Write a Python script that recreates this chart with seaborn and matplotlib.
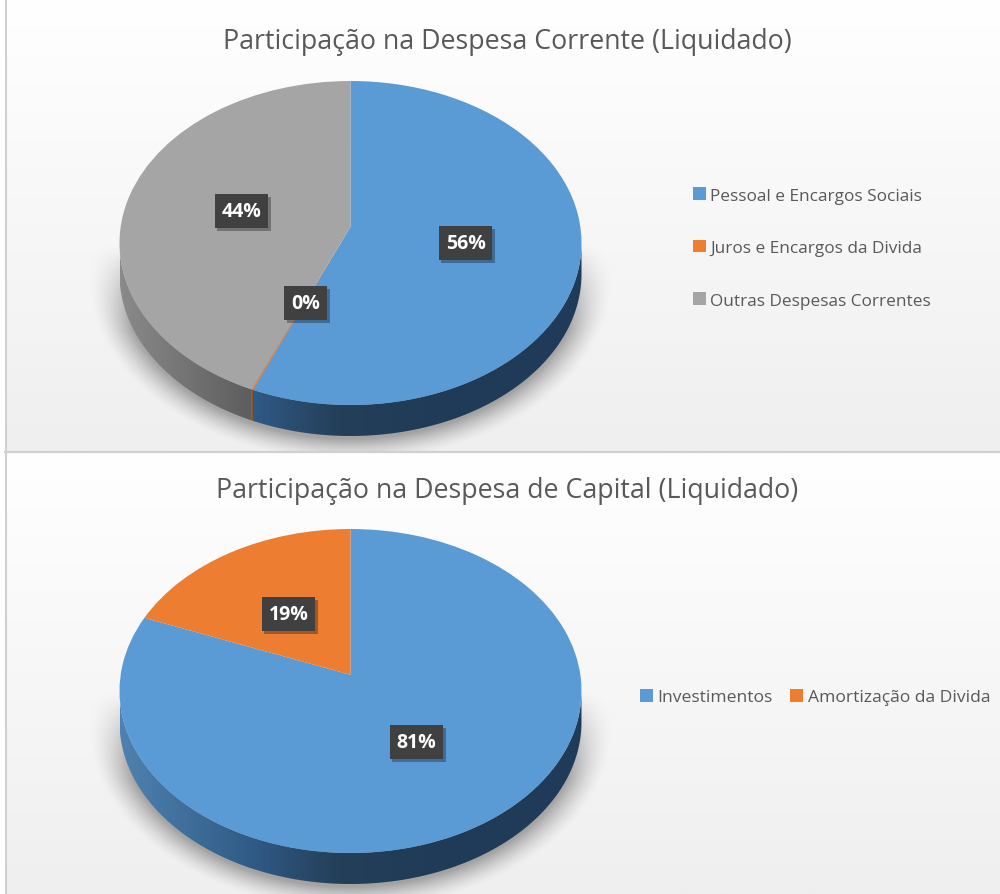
import matplotlib
matplotlib.use("Agg")
import matplotlib.pyplot as plt
import matplotlib.patheffects as pe
from matplotlib.colors import LinearSegmentedColormap
from matplotlib.patches import Polygon
from matplotlib.transforms import Transform
import numpy as np
import seaborn as sns

# values (percent)
title_top = "Participação na Despesa Corrente (Liquidado)"
cats_top = ["Pessoal e Encargos Sociais", "Juros e Encargos da Divida", "Outras Despesas Correntes"]
vals_top = [56.3, 0.1, 43.6]

title_bottom = "Participação na Despesa de Capital (Liquidado)"
cats_bottom = ["Investimentos", "Amortização da Divida"]
vals_bottom = [81.0, 19.0]

BLUE, ORANGE, GREY = "#5B9BD5", "#ED7D31", "#A5A5A5"
TEXT = "#595959"
W, H = 1000, 895
RX, RY, DEPTH = 231, 162, 31
TILT = 0.1  # perspective: the pie's apex sits above the centre of the ellipse

side_ramps = {
    BLUE: ["#4f82b0", "#2f5a85", "#243f58", "#203b57", "#1f3c5a"],
    ORANGE: ["#a0561f", "#8a4a1a", "#7a4217", "#7a4217", "#7a4217"],
    GREY: ["#8a8a8a", "#5c5c5c", "#555555", "#555555", "#555555"],
}


def tilt_xy(xy):
    x, y = xy[:, 0], xy[:, 1]
    d = 1 + TILT * y
    return np.column_stack([x * np.sqrt(1 - TILT ** 2) / d, (y + TILT) / d])


class TiltTransform(Transform):
    input_dims = output_dims = 2

    def transform_non_affine(self, values):
        return tilt_xy(np.asarray(values))


sns.set_theme(style="white")
plt.rcParams["font.family"] = ["Open Sans", "DejaVu Sans"]

fig = plt.figure(figsize=(W / 100, H / 100), dpi=100, facecolor="white")

bg = fig.add_axes([0, 0, 1, 1], zorder=0)
bg.set_axis_off()
fade = LinearSegmentedColormap.from_list("fade", ["#ffffff", "#efefef"])
ramp = np.linspace(0, 1, 256).reshape(-1, 1)
bg.imshow(ramp, cmap=fade, extent=(6, W, 452, 0), aspect="auto", vmin=0, vmax=1)
bg.imshow(ramp, cmap=fade, extent=(6, W, H, 454), aspect="auto", vmin=0, vmax=1)
bg.plot([5.5, 5.5], [0, H], color="#d0d0d0", lw=1.5)
bg.plot([5, W], [452.5, 452.5], color="#d0d0d0", lw=1.6)
bg.set_xlim(0, W)
bg.set_ylim(H, 0)


def draw_pie(cy, panel_bottom, vals, colors, cats, label_px, legend_cfg):
    lim_y = (panel_bottom - cy) / RY
    lim_x = 1.45
    ax = fig.add_axes([(350.5 - lim_x * RX) / W, 1 - (cy + lim_y * RY) / H,
                       2 * lim_x * RX / W, 2 * lim_y * RY / H],
                      facecolor="none", zorder=1)
    wedges, _ = ax.pie(vals, colors=colors, startangle=90, counterclock=False,
                       radius=1, wedgeprops=dict(linewidth=0, zorder=5))
    ax.set_aspect("auto")
    for w in wedges:
        w.set_transform(TiltTransform() + ax.transData)
    depth = DEPTH / RY

    # soft shadow below the pie
    gx, gy = np.meshgrid(np.linspace(-1.3, 1.3, 400), np.linspace(-lim_y, 0.2, 300))
    dist = np.sqrt((gx / 1.02) ** 2 + ((gy + depth * 1.1) / 1.02) ** 2)
    alpha = np.clip((1.12 - dist) / 0.14, 0, 1) ** 1.5 * 0.32
    alpha *= np.clip((0.0 - gy) / 0.55, 0, 1)
    rgba = np.zeros(gx.shape + (4,))
    rgba[..., 3] = alpha
    ax.imshow(rgba, extent=(-1.3, 1.3, -lim_y, 0.2), origin="lower", aspect="auto", zorder=1)

    # side wall of the pie, only where the wedge faces the viewer
    for w, color in zip(wedges, colors):
        t1, t2 = sorted((w.theta1, w.theta2))
        t = np.radians(np.linspace(t1, t2, 300))
        rim = tilt_xy(np.column_stack([np.cos(t), np.sin(t)]))
        rim = rim[rim[:, 1] <= 0]
        if len(rim) < 2:
            continue
        low = (rim - [0, depth])[::-1]
        clip = Polygon(np.vstack([rim, low]), closed=True, transform=ax.transData)
        cmap = LinearSegmentedColormap.from_list("side", list(zip([0, 0.29, 0.47, 0.7, 1], side_ramps[color])))
        im = ax.imshow(np.linspace(0, 1, 256).reshape(1, -1), cmap=cmap, aspect="auto",
                       extent=(-1, 1, -1.3, 0.1), zorder=3, vmin=0, vmax=1)
        im.set_clip_path(clip)

    ax.set_xlim(-lim_x, lim_x)
    ax.set_ylim(-lim_y, lim_y)

    for v, (px, py) in zip(vals, label_px):
        txt = ax.text((px - 350) / RX, (cy - py) / RY, f"{v:.0f}%", color="white", fontsize=14,
                      fontweight="bold", ha="center", va="center", zorder=10,
                      bbox=dict(boxstyle="square,pad=0.36", fc="#404040", ec="none"))
        txt.get_bbox_patch().set_path_effects([
            pe.SimplePatchShadow(offset=(2, -2), shadow_rgbFace="black", alpha=0.3),
            pe.Normal()])

    leg = fig.legend(wedges, cats, frameon=False, fontsize=legend_cfg["size"], labelcolor=TEXT,
                     loc="center left", bbox_to_anchor=legend_cfg["anchor"], ncol=legend_cfg["ncol"],
                     labelspacing=legend_cfg["spacing"], columnspacing=legend_cfg["colspace"],
                     handlelength=0.75, handleheight=0.75, handletextpad=0.25,
                     borderpad=0, borderaxespad=0)
    leg.set_zorder(3)
    return ax


draw_pie(244, 452, vals_top, [BLUE, ORANGE, GREY], cats_top,
         [(465, 244), (305, 304), (241, 212)],
         dict(size=12.45, anchor=(693 / W, 1 - 249 / H), ncol=1, spacing=2.1, colspace=1))
draw_pie(692, H, vals_bottom, [BLUE, ORANGE], cats_bottom,
         [(416, 743), (288, 615)],
         dict(size=12.6, anchor=(640 / W, 1 - 698 / H), ncol=2, spacing=1, colspace=1.0))

fig.text(507 / W, 1 - 42 / H, title_top, color=TEXT, fontsize=19.3, ha="center", va="center", zorder=5)
fig.text(507 / W, 1 - 491 / H, title_bottom, color=TEXT, fontsize=19.3, ha="center", va="center", zorder=5)

fig.savefig("out.png", dpi=100)
